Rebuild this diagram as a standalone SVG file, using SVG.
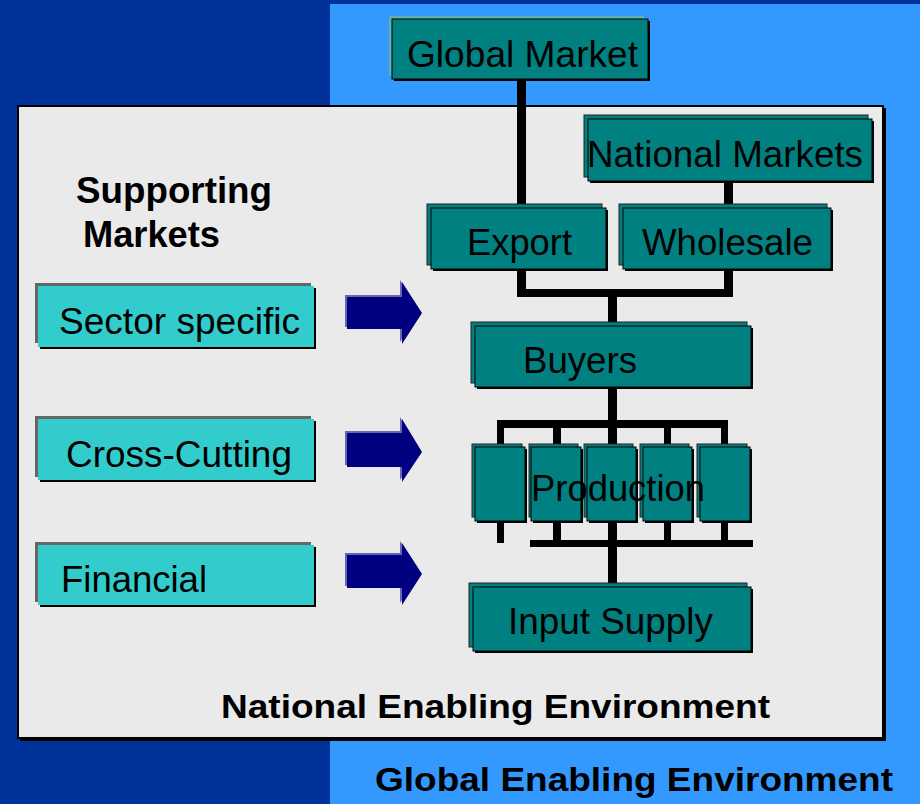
<svg xmlns="http://www.w3.org/2000/svg" width="920" height="804" viewBox="0 0 920 804">
<defs>
<style>
.t{font-family:"Liberation Sans",Arial,sans-serif;font-size:37px;fill:#000}
.b{font-family:"Liberation Sans",Arial,sans-serif;font-weight:bold;fill:#000}
.back{fill:#008080;stroke:#222;stroke-width:1}
.sh{fill:#000}
.front{fill:#008080;stroke:#000;stroke-width:1}
.cback{fill:#666}
.cfront{fill:#33CCCC}
.ln{fill:#000}
.arl{fill:#6666B3}
.ar{fill:#000080}
</style>
</defs>
<rect x="0" y="0" width="920" height="804" fill="#003399"/>
<rect x="330" y="4" width="590" height="800" fill="#3399FF"/>
<g id="panel">
<rect x="20" y="108" width="866" height="633" fill="#000"/>
<rect x="18" y="106" width="865" height="632" fill="#EAEAEA" stroke="#000" stroke-width="2"/>
</g>
<g id="connectors">
<rect class="ln" x="517" y="79" width="9" height="129"/>
<rect class="ln" x="724" y="181" width="9" height="27"/>
<rect class="ln" x="517" y="269" width="9" height="28"/>
<rect class="ln" x="724" y="269" width="9" height="28"/>
<rect class="ln" x="517" y="289" width="216" height="8"/>
<rect class="ln" x="608" y="297" width="9" height="29"/>
<rect class="ln" x="608" y="387" width="9" height="60"/>
<rect class="ln" x="498" y="420" width="229" height="8"/>
<rect class="ln" x="497" y="420" width="7" height="27"/>
<rect class="ln" x="553" y="420" width="8" height="27"/>
<rect class="ln" x="664" y="420" width="7" height="27"/>
<rect class="ln" x="721" y="420" width="7" height="27"/>
<rect class="ln" x="497" y="521" width="7" height="22"/>
<rect class="ln" x="553" y="521" width="8" height="22"/>
<rect class="ln" x="608" y="521" width="9" height="62"/>
<rect class="ln" x="664" y="521" width="7" height="22"/>
<rect class="ln" x="721" y="521" width="7" height="22"/>
<rect class="ln" x="530" y="540" width="223" height="7"/>
<polygon class="arl" points="345,295 400,295 400,280 420,311 400,342 400,327 345,327"/>
<polygon class="ar" points="347,297 402,297 402,282 422,313 402,344 402,329 347,329"/>
<polygon class="arl" points="345,431 400,431 400,417 420,450 400,480 400,465 345,465"/>
<polygon class="ar" points="347,433 402,433 402,419 422,452 402,482 402,467 347,467"/>
<polygon class="arl" points="345,553 400,553 400,541 420,572 400,603 400,586 345,586"/>
<polygon class="ar" points="347,555 402,555 402,543 422,574 402,605 402,588 347,588"/>
</g>
<g id="global-market">
<rect x="389" y="16" width="255" height="60" fill="#5FB0B0"/>
<rect class="sh" x="394" y="21" width="256" height="60"/>
<rect class="front" x="392" y="19" width="256" height="60"/>
<text class="t" x="407" y="67" textLength="231" lengthAdjust="spacingAndGlyphs">Global Market</text>
</g>
<g id="national-markets">
<rect class="back" x="584" y="115" width="284" height="62"/>
<rect class="sh" x="590" y="121" width="284" height="62"/>
<rect class="front" x="588" y="119" width="284" height="62"/>
<text class="t" x="587" y="167" textLength="276" lengthAdjust="spacingAndGlyphs">National Markets</text>
</g>
<g id="export">
<rect class="back" x="427" y="204" width="175" height="61"/>
<rect class="sh" x="433" y="210" width="175" height="61"/>
<rect class="front" x="431" y="208" width="175" height="61"/>
<text class="t" x="467" y="255" textLength="105" lengthAdjust="spacingAndGlyphs">Export</text>
</g>
<g id="wholesale">
<rect class="back" x="619" y="204" width="208" height="61"/>
<rect class="sh" x="625" y="210" width="208" height="61"/>
<rect class="front" x="623" y="208" width="208" height="61"/>
<text class="t" x="642" y="255" textLength="171" lengthAdjust="spacingAndGlyphs">Wholesale</text>
</g>
<g id="buyers">
<rect class="back" x="471" y="322" width="276" height="61"/>
<rect class="sh" x="477" y="328" width="276" height="61"/>
<rect class="front" x="475" y="326" width="276" height="61"/>
<text class="t" x="523" y="373" textLength="114" lengthAdjust="spacingAndGlyphs">Buyers</text>
</g>
<g id="production">
<rect class="back" x="472" y="444" width="50" height="73"/>
<rect class="sh" x="477" y="449" width="50" height="74"/>
<rect class="front" x="475" y="447" width="50" height="74"/>
<rect class="back" x="529" y="444" width="49" height="73"/>
<rect class="sh" x="533" y="449" width="50" height="74"/>
<rect class="front" x="531" y="447" width="50" height="74"/>
<rect class="back" x="584" y="444" width="49" height="73"/>
<rect class="sh" x="589" y="449" width="49" height="74"/>
<rect class="front" x="587" y="447" width="49" height="74"/>
<rect class="back" x="640" y="444" width="49" height="73"/>
<rect class="sh" x="645" y="449" width="49" height="74"/>
<rect class="front" x="643" y="447" width="49" height="74"/>
<rect class="back" x="697" y="444" width="50" height="73"/>
<rect class="sh" x="702" y="449" width="50" height="74"/>
<rect class="front" x="700" y="447" width="50" height="74"/>
<text class="t" x="531" y="501" textLength="174" lengthAdjust="spacingAndGlyphs">Production</text>
</g>
<g id="input-supply">
<rect class="back" x="469" y="583" width="278" height="64"/>
<rect class="sh" x="475" y="589" width="278" height="64"/>
<rect class="front" x="473" y="587" width="278" height="64"/>
<text class="t" x="508" y="634" textLength="205" lengthAdjust="spacingAndGlyphs">Input Supply</text>
</g>
<g id="supporting-markets">
<text class="b" x="76" y="203" font-size="36" textLength="196" lengthAdjust="spacingAndGlyphs">Supporting</text>
<text class="b" x="83" y="247" font-size="36" textLength="137" lengthAdjust="spacingAndGlyphs">Markets</text>
</g>
<g id="sector-specific">
<rect class="cback" x="35" y="283" width="276" height="60"/>
<rect class="sh" x="40" y="288" width="276" height="61"/>
<rect class="cfront" x="38" y="286" width="276" height="61"/>
<text class="t" x="59" y="334" textLength="241" lengthAdjust="spacingAndGlyphs">Sector specific</text>
</g>
<g id="cross-cutting">
<rect class="cback" x="35" y="416" width="276" height="61"/>
<rect class="sh" x="40" y="421" width="276" height="61"/>
<rect class="cfront" x="38" y="419" width="276" height="61"/>
<text class="t" x="66" y="467" textLength="226" lengthAdjust="spacingAndGlyphs">Cross-Cutting</text>
</g>
<g id="financial">
<rect class="cback" x="35" y="542" width="276" height="60"/>
<rect class="sh" x="40" y="547" width="276" height="60"/>
<rect class="cfront" x="38" y="545" width="276" height="60"/>
<text class="t" x="61" y="592" textLength="146" lengthAdjust="spacingAndGlyphs">Financial</text>
</g>
<g id="labels">
<text class="b" x="221" y="718" font-size="34" textLength="549" lengthAdjust="spacingAndGlyphs">National Enabling Environment</text>
<text class="b" x="375" y="791" font-size="34" textLength="518" lengthAdjust="spacingAndGlyphs">Global Enabling Environment</text>
</g>
</svg>
